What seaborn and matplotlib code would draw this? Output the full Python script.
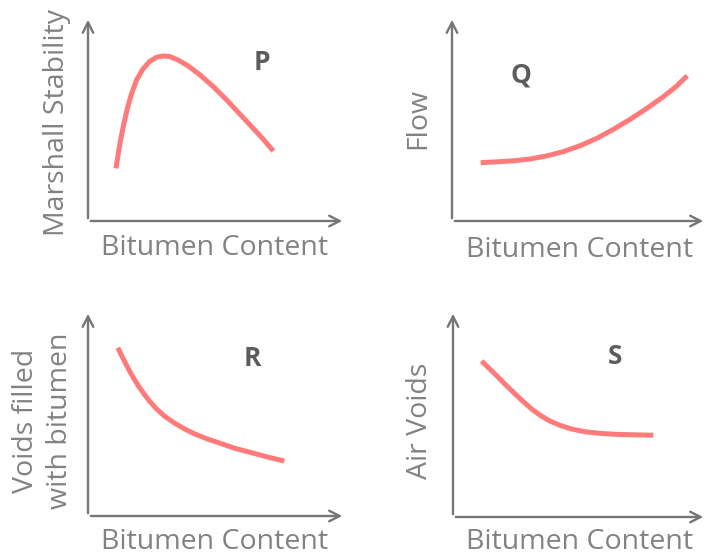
import matplotlib
matplotlib.use("Agg")
import pandas as pd
import seaborn as sns
from matplotlib import pyplot as plt

# curves, both axes on a 0-10 scale
p_x = [1.09, 1.18, 1.28, 1.40, 1.53, 1.70, 1.89, 2.13, 2.39, 2.67, 2.93,
       3.19, 3.51, 3.90, 4.36, 4.88, 5.40, 5.91, 6.43, 6.82, 7.21]
p_y = [2.58, 3.32, 4.05, 4.79, 5.52, 6.26, 6.91, 7.44, 7.81, 8.03, 8.09,
       8.06, 7.89, 7.60, 7.16, 6.58, 5.93, 5.24, 4.54, 4.01, 3.43]

q_x = [1.13, 1.76, 2.41, 3.07, 3.73, 4.38, 5.04, 5.70, 6.35, 7.01, 7.67, 8.32, 8.85, 9.26]
q_y = [2.86, 2.90, 2.95, 3.04, 3.19, 3.40, 3.69, 4.05, 4.49, 4.98, 5.52, 6.09, 6.62, 7.12]

r_x = [1.16, 1.31, 1.47, 1.63, 1.80, 1.98, 2.19, 2.41, 2.67, 2.97,
       3.32, 3.71, 4.14, 4.62, 5.14, 5.72, 6.30, 6.95, 7.64]
r_y = [8.21, 7.82, 7.43, 7.04, 6.67, 6.31, 5.94, 5.58, 5.22, 4.88,
       4.57, 4.28, 4.01, 3.77, 3.55, 3.30, 3.11, 2.89, 2.68]

s_x = [1.13, 1.46, 1.79, 2.12, 2.45, 2.78, 3.11, 3.47, 3.83, 4.23,
       4.69, 5.22, 5.81, 6.47, 7.19, 7.92]
s_y = [7.57, 7.18, 6.78, 6.37, 5.98, 5.60, 5.24, 4.92, 4.66, 4.45,
       4.27, 4.14, 4.06, 4.01, 3.99, 3.97]

panels = ['P', 'Q', 'R', 'S']
y_labels = ['Marshall Stability', 'Flow', 'Voids filled\nwith bitumen', 'Air Voids']
x_label = 'Bitumen Content'

sns.set_style('white')
plt.rcParams['font.family'] = ['Open Sans', 'DejaVu Sans']

W, H = 707, 558
fig = plt.figure(figsize=(W / 100, H / 100), dpi=100)

# axes boxes in pixels: left, top, right, bottom
boxes = [(88, 17, 345, 221), (452, 17, 706, 221),
         (88, 311, 345, 516), (453, 311, 706, 517)]
letter_pos = [(0.677, 0.775), (0.272, 0.716), (0.638, 0.766), (0.640, 0.777)]
ylabel_pos = [(57, 123), (418, 118), (43, 421), (420, 421)]
xlabel_pos = [(215, 248), (580, 250), (215, 542), (580, 542)]

curves = [(p_x, p_y), (q_x, q_y), (r_x, r_y), (s_x, s_y)]
axis_col = '#767676'
text_col = '#828282'

for i, (l, t, r, b) in enumerate(boxes):
    ax = fig.add_axes([l / W, 1 - b / H, (r - l) / W, (b - t) / H])
    ax.patch.set_alpha(0)
    df = pd.DataFrame({'x': curves[i][0], 'y': curves[i][1]})
    sns.lineplot(data=df, x='x', y='y', ax=ax, color='#ff7b7b', linewidth=3.6,
                 sort=False, solid_capstyle='butt', solid_joinstyle='round')
    ax.set_xlim(0, 10)
    ax.set_ylim(0, 10)
    ax.set_xticks([])
    ax.set_yticks([])
    ax.set_xlabel('')
    ax.set_ylabel('')
    for sp in ax.spines.values():
        sp.set_visible(False)
    arrow = dict(arrowstyle='->,head_length=0.75,head_width=0.38', color=axis_col, lw=1.7)
    ax.annotate('', xy=(0, 1), xytext=(0, 0), xycoords='axes fraction', arrowprops=arrow,
                annotation_clip=False)
    ax.annotate('', xy=(1, 0), xytext=(0, 0), xycoords='axes fraction', arrowprops=arrow,
                annotation_clip=False)
    ax.text(letter_pos[i][0], letter_pos[i][1], panels[i], transform=ax.transAxes,
            fontsize=19, fontweight='bold', color='#5c5c5c', ha='center', va='center')

    lx, ly = ylabel_pos[i]
    fig.text(lx / W, 1 - ly / H, y_labels[i], rotation=90, ha='center', va='center',
             fontsize=20.5, color=text_col, linespacing=1.3)
    tx, ty = xlabel_pos[i]
    fig.text(tx / W, 1 - ty / H, x_label, ha='center', va='center',
             fontsize=20.5, color=text_col)

fig.savefig('out.png', dpi=100)
